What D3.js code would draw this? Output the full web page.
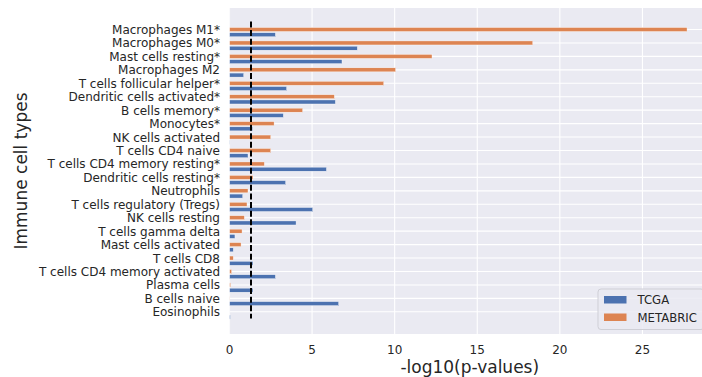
<!DOCTYPE html>
<html>
<head>
<meta charset="utf-8">
<script src="https://cdn.jsdelivr.net/npm/d3@7"></script>
<style>
  html, body { margin: 0; padding: 0; background: #fff; }
  svg { display: block; font-family: "DejaVu Sans", sans-serif; }
</style>
</head>
<body>
<svg id="chart" width="702" height="377"></svg>
<script>
// Immune cell types, in plotting order (top to bottom)
const cellTypes = [
  "Macrophages M1*", "Macrophages M0*", "Mast cells resting*", "Macrophages M2",
  "T cells follicular helper*", "Dendritic cells activated*", "B cells memory*",
  "Monocytes*", "NK cells activated", "T cells CD4 naive", "T cells CD4 memory resting*",
  "Dendritic cells resting*", "Neutrophils", "T cells regulatory (Tregs)", "NK cells resting",
  "T cells gamma delta", "Mast cells activated", "T cells CD8", "T cells CD4 memory activated",
  "Plasma cells", "B cells naive", "Eosinophils"
];
// -log10(p-value) per cohort
const metabric = [27.7, 18.36, 12.26, 10.06, 9.34, 6.35, 4.43, 2.70, 2.50, 2.50, 2.11,
                  1.42, 1.12, 1.06, 0.90, 0.76, 0.70, 0.23, 0.13, 0.07, 0.01, 0.0];
const tcga = [2.78, 7.74, 6.81, 0.86, 3.46, 6.41, 3.26, 1.40, 0.02, 1.12, 5.87,
              3.40, 0.80, 5.04, 4.03, 0.33, 0.23, 1.42, 2.78, 1.42, 6.61, 0.05];
const xTicks = [0, 5, 10, 15, 20, 25];
const threshold = -Math.log10(0.05);
const seriesNames = ["TCGA", "METABRIC"];
const seriesColors = ["#4C72B0", "#DD8452"];

const svg = d3.select("#chart");
const plot = { left: 229.5, right: 710, top: 8, bottom: 334 };

const x = d3.scaleLinear().domain([0, 29.09]).range([plot.left, plot.right]);
const y = d3.scaleLinear().domain([-1.6, 22.65]).range([plot.top, plot.bottom]);
const barH = 0.3, blueOffset = 0.39;

// Background panel
svg.append("rect")
  .attr("x", plot.left).attr("y", plot.top)
  .attr("width", plot.right - plot.left).attr("height", plot.bottom - plot.top)
  .attr("fill", "#EAEAF2");

const clip = svg.append("clipPath").attr("id", "plotclip").append("rect")
  .attr("x", plot.left).attr("y", plot.top)
  .attr("width", plot.right - plot.left).attr("height", plot.bottom - plot.top);

const g = svg.append("g").attr("clip-path", "url(#plotclip)");

// Grid
g.selectAll("line.vgrid").data(xTicks).join("line")
  .attr("x1", d => x(d)).attr("x2", d => x(d))
  .attr("y1", plot.top).attr("y2", plot.bottom)
  .attr("stroke", "#fff").attr("stroke-width", 1.1);
g.selectAll("line.hgrid").data(cellTypes).join("line")
  .attr("x1", plot.left).attr("x2", plot.right)
  .attr("y1", (d, i) => y(i)).attr("y2", (d, i) => y(i))
  .attr("stroke", "#fff").attr("stroke-width", 1.1);

// Bars
g.selectAll("rect.metabric").data(metabric).join("rect")
  .attr("x", x(0)).attr("y", (d, i) => y(i - barH / 2))
  .attr("width", d => x(d) - x(0)).attr("height", y(barH) - y(0))
  .attr("fill", seriesColors[1]).attr("stroke", "#fff").attr("stroke-width", 0.4);
g.selectAll("rect.tcga").data(tcga).join("rect")
  .attr("x", x(0)).attr("y", (d, i) => y(i + blueOffset - barH / 2))
  .attr("width", d => x(d) - x(0)).attr("height", y(barH) - y(0))
  .attr("fill", seriesColors[0]).attr("stroke", "#fff").attr("stroke-width", 0.4);

// Significance threshold (p = 0.05)
g.append("line")
  .attr("x1", x(threshold)).attr("x2", x(threshold))
  .attr("y1", y(-0.6)).attr("y2", y(21.5))
  .attr("stroke", "#000").attr("stroke-width", 2)
  .attr("stroke-dasharray", "6,2.6");

// Y tick labels
svg.append("g").selectAll("text").data(cellTypes).join("text")
  .attr("x", 220).attr("y", (d, i) => y(i) + 0.5)
  .attr("text-anchor", "end").attr("dominant-baseline", "central")
  .attr("font-size", 12).attr("fill", "#262626")
  .text(d => d);

// X tick labels
svg.append("g").selectAll("text").data(xTicks).join("text")
  .attr("x", d => x(d)).attr("y", 349.5)
  .attr("text-anchor", "middle").attr("dominant-baseline", "central")
  .attr("font-size", 12).attr("fill", "#262626")
  .text(d => d);

// Axis titles
svg.append("text")
  .attr("x", (plot.left + plot.right) / 2).attr("y", 367)
  .attr("text-anchor", "middle").attr("dominant-baseline", "central")
  .attr("font-size", 17).attr("fill", "#262626")
  .text("-log10(p-values)");
svg.append("text")
  .attr("transform", `translate(21,${(plot.top + plot.bottom) / 2}) rotate(-90)`)
  .attr("text-anchor", "middle").attr("dominant-baseline", "central")
  .attr("font-size", 17).attr("fill", "#262626")
  .text("Immune cell types");

// Legend
const leg = svg.append("g").attr("transform", "translate(598,289)");
leg.append("rect")
  .attr("width", 106).attr("height", 40.5).attr("rx", 3)
  .attr("fill", "#EAEAF2").attr("fill-opacity", 0.85)
  .attr("stroke", "#cfcfd6").attr("stroke-width", 1);
seriesNames.forEach((name, i) => {
  const row = leg.append("g").attr("transform", `translate(6,${7 + i * 17.5})`);
  row.append("rect").attr("width", 22.5).attr("height", 7.5)
    .attr("fill", seriesColors[i]);
  row.append("text").attr("x", 33.5).attr("y", 4)
    .attr("dominant-baseline", "central")
    .attr("font-size", 11.7).attr("fill", "#262626")
    .text(name);
});
</script>
</body>
</html>
